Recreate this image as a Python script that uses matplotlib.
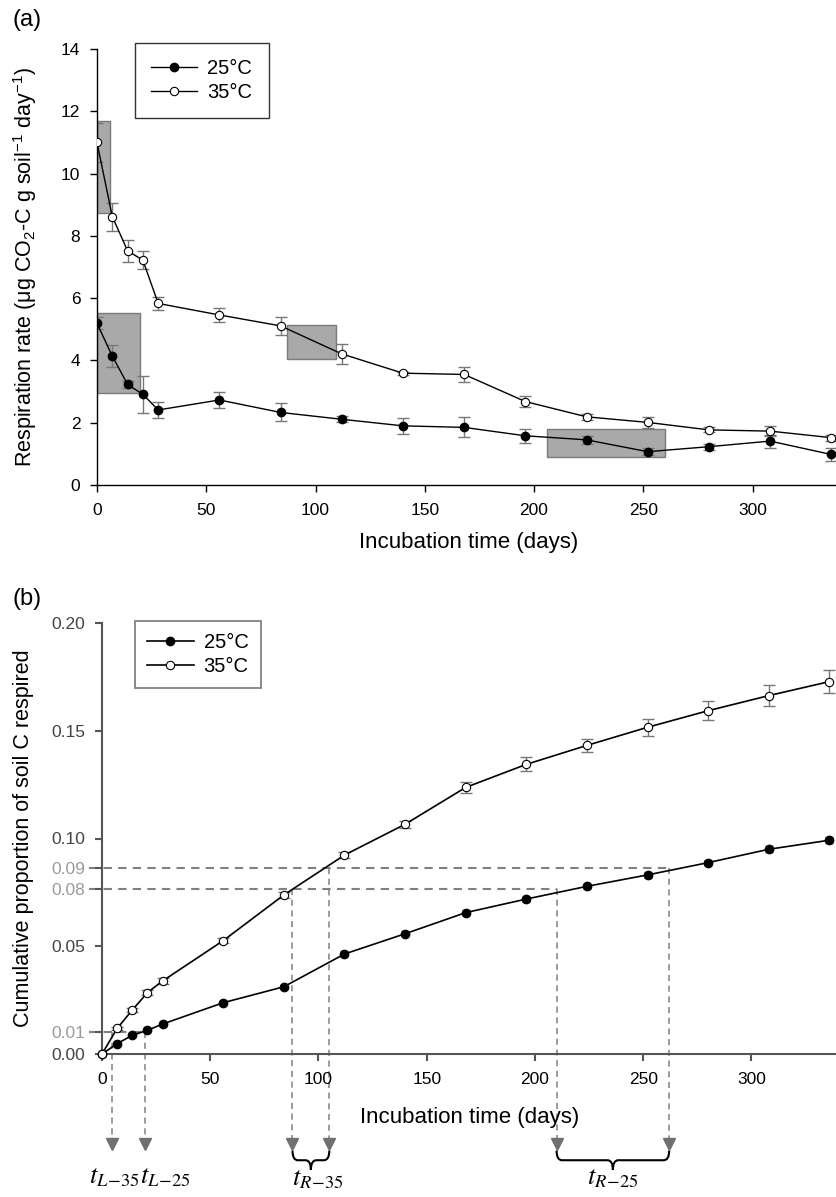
import numpy as np
import matplotlib
matplotlib.use("Agg")
import matplotlib.pyplot as plt
from matplotlib.patches import Rectangle, PathPatch
from matplotlib.path import Path

plt.rcParams['font.family'] = ['Liberation Sans', 'DejaVu Sans']
plt.rcParams['mathtext.fontset'] = 'custom'
plt.rcParams['mathtext.rm'] = 'Liberation Sans'
plt.rcParams['mathtext.it'] = 'Liberation Sans:italic'

# sampling days
days = [0, 7, 14, 21, 28, 56, 84, 112, 140, 168, 196, 224, 252, 280, 308, 336]

# (a) respiration rate
rate_25 = [5.19, 4.14, 3.23, 2.91, 2.41, 2.73, 2.33, 2.11, 1.90, 1.85, 1.58, 1.45, 1.07, 1.23, 1.41, 0.98]
rate_25_err = [0.19, 0.36, 0.10, 0.60, 0.25, 0.27, 0.29, 0.10, 0.25, 0.32, 0.22, 0.12, 0.12, 0.10, 0.21, 0.22]
rate_35 = [11.0, 8.62, 7.52, 7.22, 5.83, 5.46, 5.11, 4.21, 3.59, 3.55, 2.68, 2.19, 2.01, 1.77, 1.73, 1.52]
rate_35_err = [0.62, 0.45, 0.35, 0.30, 0.22, 0.23, 0.28, 0.31, 0.05, 0.25, 0.18, 0.10, 0.18, 0.08, 0.17, 0.10]

# shaded boxes in (a): day range and rate range
box_days = [(0, 6), (0, 19.5), (87, 109.5), (206, 260)]
box_rates = [(8.72, 11.7), (2.97, 5.51), (4.05, 5.14), (0.91, 1.80)]

# (b) cumulative proportion respired
cum_25 = [0, 0.0048, 0.0087, 0.0110, 0.0139, 0.0238, 0.0312, 0.0464, 0.0558, 0.0656,
          0.0719, 0.0778, 0.0831, 0.0888, 0.0950, 0.0992]
cum_25_err = [0, 0.0006, 0.0006, 0.0007, 0.0008, 0.0008, 0.0010, 0.0012, 0.0012, 0.0012,
              0.0012, 0.0012, 0.0012, 0.0012, 0.0014, 0.0015]
cum_35 = [0, 0.0119, 0.0204, 0.0285, 0.0339, 0.0526, 0.0738, 0.0923, 0.1066, 0.1237,
          0.1344, 0.1432, 0.1516, 0.1593, 0.1663, 0.1728]
cum_35_err = [0, 0.0008, 0.0010, 0.0010, 0.0012, 0.0012, 0.0012, 0.0015, 0.0015, 0.0027,
              0.0033, 0.0032, 0.0040, 0.0045, 0.0050, 0.0054]

# guide levels (as drawn) and the times where they meet the curves
guide_levels = [0.01, 0.0766, 0.0863]
guide_labels = ['0.01', '0.08', '0.09']
t_L35, t_L25 = 4.5, 20
t_R35 = (88, 105)
t_R25 = (210, 262)

fig = plt.figure(figsize=(8.37, 11.97), dpi=100)
W, H = 837.0, 1197.0

def style(ax, spine_col, lw):
    for s in ['top', 'right']:
        ax.spines[s].set_visible(False)
    for s in ['left', 'bottom']:
        ax.spines[s].set_color(spine_col)
        ax.spines[s].set_linewidth(lw)
    ax.tick_params(direction='out', length=5, width=lw, color=spine_col, labelsize=12.5)
    ax.tick_params(axis='y', pad=7)
    ax.tick_params(axis='x', pad=8)

legkw = dict(loc='upper left', fontsize=14.5, frameon=True, fancybox=False,
             handlelength=2.3, handletextpad=0.5, labelspacing=0.25, borderaxespad=0)

# ---------- (a) ----------
ax1 = fig.add_axes([97 / W, 1 - 485 / H, 743 / W, 436 / H])
style(ax1, 'black', 1.0)
for (x0, x1), (y0, y1) in zip(box_days, box_rates):
    ax1.add_patch(Rectangle((x0, y0), x1 - x0, y1 - y0, facecolor='#a9a9a9',
                            edgecolor='#7a7a7a', lw=1, zorder=1))
ax1.errorbar(days, rate_25, yerr=rate_25_err, fmt='none', ecolor='#777777', elinewidth=1,
             capsize=4, capthick=1, zorder=2)
ax1.errorbar(days, rate_35, yerr=rate_35_err, fmt='none', ecolor='#777777', elinewidth=1,
             capsize=4, capthick=1, zorder=2)
ax1.plot(days, rate_25, '-o', color='black', lw=1, ms=6, mfc='black', mec='black',
         label='25°C', zorder=3)
ax1.plot(days, rate_35, '-o', color='black', lw=1, ms=6, mfc='white', mec='black', mew=0.8,
         label='35°C', zorder=3)
ax1.set_xlim(0, 340)
ax1.set_ylim(0, 14)
ax1.set_xticks([0, 50, 100, 150, 200, 250, 300])
ax1.set_yticks(range(0, 15, 2))
ax1.set_xlabel('Incubation time (days)', fontsize=16)
ax1.xaxis.set_label_coords(0.5, -0.107)
ax1.set_ylabel(r'Respiration rate ($\mathregular{\mu}$g CO$_2$-C g soil$^{-1}$ day$^{-1}$)', fontsize=15.5)
ax1.yaxis.set_label_coords(-0.078, 0.5)
leg = ax1.legend(bbox_to_anchor=(0.051, 1.014), edgecolor='black', borderpad=0.8, **legkw)
leg.get_frame().set_linewidth(1)
fig.text(13 / W, 1 - 20 / H, '(a)', fontsize=17, va='center', ha='left')

# ---------- (b) ----------
gcol = '#555555'
ax2 = fig.add_axes([102 / W, 1 - 1054 / H, 736 / W, 431 / H])
style(ax2, gcol, 1.5)
ax2.errorbar(days, cum_25, yerr=cum_25_err, fmt='none', ecolor='#777777', elinewidth=1,
             capsize=3, capthick=1, zorder=2)
ax2.errorbar(days, cum_35, yerr=cum_35_err, fmt='none', ecolor='#777777', elinewidth=1,
             capsize=4, capthick=1, zorder=2)
ax2.plot(days, cum_25, '-o', color='black', lw=1.2, ms=6, mfc='black', mec='black',
         label='25°C', zorder=3, clip_on=False)
ax2.plot(days, cum_35, '-o', color='black', lw=1.2, ms=6, mfc='white', mec='black', mew=0.8,
         label='35°C', zorder=3, clip_on=False)
ax2.set_xlim(0, 340)
ax2.set_ylim(0, 0.20)
ax2.set_xticks([0, 50, 100, 150, 200, 250, 300])
yt = [0.0, 0.05, 0.10, 0.15, 0.20] + guide_levels
ax2.set_yticks(yt)
ax2.set_yticklabels(['0.00', '0.05', '0.10', '0.15', '0.20'] + guide_labels)
for lab in ax2.get_yticklabels():
    lab.set_color('#444444')
for lab in ax2.get_yticklabels()[5:]:
    lab.set_color('#9a9a9a')
ax2.set_xlabel('Incubation time (days)', fontsize=16)
ax2.xaxis.set_label_coords(0.5, -0.122)
ax2.set_ylabel('Cumulative proportion of soil C respired', fontsize=15.5)
ax2.yaxis.set_label_coords(-0.092, 0.5)
leg2 = ax2.legend(bbox_to_anchor=(0.045, 1.005), edgecolor=gcol, borderpad=0.6, **legkw)
leg2.get_frame().set_linewidth(1.2)
fig.text(13 / W, 1 - 599 / H, '(b)', fontsize=17, va='center', ha='left')

# guide lines
dash = dict(color='#808080', lw=1.5, ls=(0, (4, 3)), clip_on=False, zorder=1)
ends = [t_L25, t_R25[0], t_R25[1]]
for lvl, xe in zip(guide_levels, ends):
    ax2.plot([-6, xe], [lvl, lvl], **dash)

y_arrow = -0.0418
vlines = [(t_L35, guide_levels[0]), (t_L25, guide_levels[0]),
          (t_R35[0], guide_levels[1]), (t_R35[1], guide_levels[2]),
          (t_R25[0], guide_levels[1]), (t_R25[1], guide_levels[2])]
for xv, ytop in vlines:
    ax2.plot([xv, xv], [ytop, y_arrow + 0.002], color='#808080', lw=1.1,
             ls=(0, (4, 3)), clip_on=False, zorder=1)
    ax2.plot([xv], [y_arrow], marker='v', ms=8, color='#707070', clip_on=False, zorder=2)


def brace(ax, x1, x2, ytop, depth, w=2.5):
    xm = (x1 + x2) / 2.0
    h = depth / 2.0
    verts = [(x1, ytop), (x1, ytop - h), (x1 + w, ytop - h),
             (xm - w, ytop - h), (xm, ytop - h), (xm, ytop - depth),
             (xm, ytop - h), (xm + w, ytop - h),
             (x2 - w, ytop - h), (x2, ytop - h), (x2, ytop)]
    codes = [Path.MOVETO, Path.CURVE3, Path.CURVE3, Path.LINETO, Path.CURVE3, Path.CURVE3,
             Path.CURVE3, Path.CURVE3, Path.LINETO, Path.CURVE3, Path.CURVE3]
    ax.add_patch(PathPatch(Path(verts, codes), fill=False, lw=1.5, color='black',
                           clip_on=False))

brace(ax2, t_R35[0], t_R35[1], -0.0448, 0.009)
brace(ax2, t_R25[0], t_R25[1], -0.0448, 0.009)

tkw = dict(fontsize=19, math_fontfamily='stix', ha='center', va='baseline')
ax2.text(t_L35 + 1, -0.0600, r'$t_{L\!-\!35}$', **tkw)
ax2.text(t_L25 + 9, -0.0600, r'$t_{L\!-\!25}$', **tkw)
ax2.text(sum(t_R35) / 2 + 3, -0.0612, r'$t_{R\!-\!35}$', **tkw)
ax2.text(sum(t_R25) / 2, -0.0606, r'$t_{R\!-\!25}$', **tkw)

fig.savefig('out.png', dpi=100)
